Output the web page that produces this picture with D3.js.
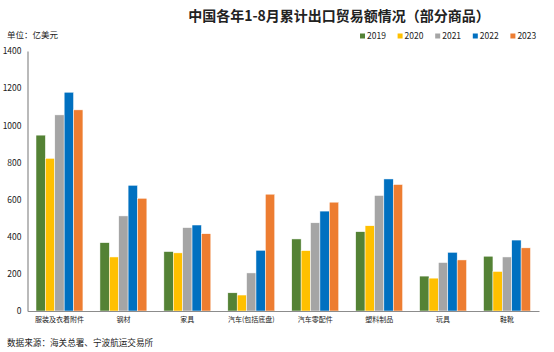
<!DOCTYPE html>
<html>
<head>
<meta charset="utf-8">
<script src="https://cdn.jsdelivr.net/npm/d3@7"></script>
<style>
  body { margin: 0; background: #fff; }
  text { font-family: "Noto Sans CJK SC", "Noto Sans", sans-serif; fill: #222; }
</style>
</head>
<body>
<div id="canvas"></div>
<script>
"use strict";

// data (亿美元)
let categories = ["服装及衣着附件", "钢材", "家具", "汽车(包括底盘)", "汽车零配件", "塑料制品", "玩具", "鞋靴"];
let years = ["2019", "2020", "2021", "2022", "2023"];
let v2019 = [947, 368, 320, 98, 388, 427, 188, 295];
let v2020 = [822, 291, 313, 86, 325, 459, 177, 213];
let v2021 = [1056, 512, 449, 205, 475, 622, 261, 291];
let v2022 = [1178, 677, 463, 327, 538, 711, 316, 382];
let v2023 = [1083, 607, 416, 629, 586, 681, 275, 340];
let yTicks = [0, 200, 400, 600, 800, 1000, 1200, 1400];

let seriesValues = [v2019, v2020, v2021, v2022, v2023];
let colors = ["#548235", "#FFC000", "#A5A5A5", "#0070C0", "#ED7D31"];

let svgWidth = 554;
let svgHeight = 352;
let margin = { top: 51, right: 15, bottom: 41, left: 27.5 };

let svg = d3.select("#canvas").append("svg")
    .attr("width", svgWidth)
    .attr("height", svgHeight);

svg.append("rect")
    .attr("width", svgWidth)
    .attr("height", svgHeight)
    .attr("fill", "#fff");

let x0 = d3.scaleBand()
    .domain(categories)
    .range([margin.left, svgWidth - margin.right])
    .padding(0);

let bw = x0.bandwidth();
let pad = bw * 0.133;
let x1 = d3.scaleBand()
    .domain(years)
    .range([pad, bw - pad])
    .padding(0);

let y = d3.scaleLinear()
    .domain([0, 1400])
    .range([svgHeight - margin.bottom, margin.top]);

// bars
let groups = svg.selectAll("g.group")
    .data(categories)
    .join("g")
    .attr("class", "group")
    .attr("transform", function(d) { return "translate(" + x0(d) + ",0)"; });

groups.selectAll("rect")
    .data(function(d, i) {
        return years.map(function(yr, j) {
            return { year: yr, value: seriesValues[j][i], color: colors[j] };
        });
    })
    .join("rect")
    .attr("x", function(d) { return x1(d.year); })
    .attr("width", x1.bandwidth())
    .attr("y", function(d) { return y(d.value); })
    .attr("height", function(d) { return y(0) - y(d.value); })
    .attr("fill", function(d) { return d.color; })
    .attr("stroke", "#fff")
    .attr("stroke-width", 0.5);

// y axis
let yAxis = svg.append("g")
    .attr("transform", "translate(" + margin.left + ",0)")
    .call(d3.axisLeft(y).tickValues(yTicks).tickFormat(d3.format("d")).tickSize(0).tickPadding(6));
yAxis.select(".domain").attr("stroke", "#8c8c8c").attr("stroke-width", 1.2);
yAxis.selectAll("text").style("font-size", "8.5px").attr("fill", "#222");

// x axis
let xAxis = svg.append("g")
    .attr("transform", "translate(0," + y(0) + ")")
    .call(d3.axisBottom(x0).tickSize(0).tickPadding(6));
xAxis.select(".domain").attr("stroke", "#8c8c8c").attr("stroke-width", 1.2);
xAxis.selectAll("text").style("font-size", "7px").attr("fill", "#222");

// title
svg.append("text")
    .attr("x", 339)
    .attr("y", 20.5)
    .attr("text-anchor", "middle")
    .attr("font-weight", "bold")
    .style("font-size", "14px")
    .text("中国各年1-8月累计出口贸易额情况（部分商品）");

// unit
svg.append("text")
    .attr("x", 7)
    .attr("y", 37.5)
    .style("font-size", "8.5px")
    .text("单位：亿美元");

// legend
let legend = svg.selectAll("g.legend")
    .data(years)
    .join("g")
    .attr("class", "legend")
    .attr("transform", function(d, i) { return "translate(" + (360 + i * 37.6) + ",36)"; });

legend.append("rect")
    .attr("x", 0)
    .attr("y", -2.5)
    .attr("width", 5)
    .attr("height", 5)
    .attr("fill", function(d, i) { return colors[i]; });

legend.append("text")
    .attr("x", 7)
    .attr("y", 3)
    .style("font-size", "8.5px")
    .text(function(d) { return d; });

// source
svg.append("text")
    .attr("x", 7)
    .attr("y", 346)
    .style("font-size", "8.6px")
    .text("数据来源：海关总署、宁波航运交易所");
</script>
</body>
</html>
